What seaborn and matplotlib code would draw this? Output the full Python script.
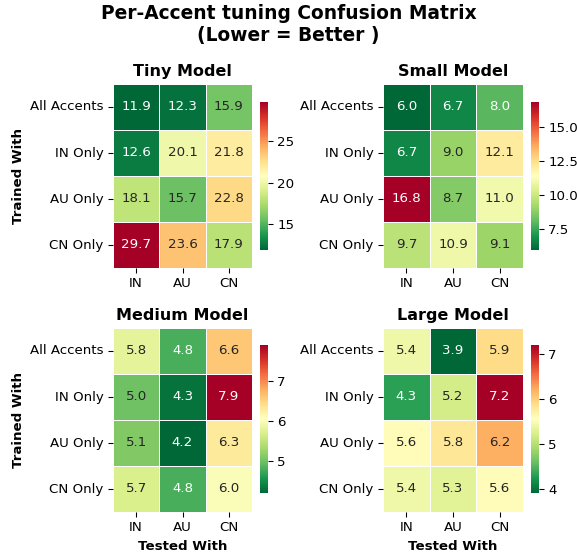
import numpy as np
import pandas as pd
import matplotlib
matplotlib.use("Agg")
import matplotlib.pyplot as plt
import seaborn as sns

trained = ["All Accents", "IN Only", "AU Only", "CN Only"]
tested = ["IN", "AU", "CN"]

tiny = [[11.9, 12.3, 15.9],
        [12.6, 20.1, 21.8],
        [18.1, 15.7, 22.8],
        [29.7, 23.6, 17.9]]
small = [[6.0, 6.7, 8.0],
         [6.7, 9.0, 12.1],
         [16.8, 8.7, 11.0],
         [9.7, 10.9, 9.1]]
medium = [[5.8, 4.8, 6.6],
          [5.0, 4.3, 7.9],
          [5.1, 4.2, 6.3],
          [5.7, 4.8, 6.0]]
large = [[5.4, 3.9, 5.9],
         [4.3, 5.2, 7.2],
         [5.6, 5.8, 6.2],
         [5.4, 5.3, 5.6]]

models = [("Tiny Model", tiny), ("Small Model", small),
          ("Medium Model", medium), ("Large Model", large)]

W, H = 577, 553
fig = plt.figure(figsize=(W / 96, H / 96), dpi=96)


def rect(x, y, w, h):
    # pixel box (top-left origin) -> figure fraction
    return [x / W, 1 - (y + h) / H, w / W, h / H]


heat_boxes = [(113, 84, 139, 184), (383, 84, 140, 184),
              (113, 328, 139, 184), (383, 328, 140, 184)]
cbar_boxes = [(260, 102, 8, 148), (531, 102, 8, 148),
              (260, 345, 8, 148), (531, 345, 8, 148)]

for i, (name, vals) in enumerate(models):
    ax = fig.add_axes(rect(*heat_boxes[i]))
    cax = fig.add_axes(rect(*cbar_boxes[i]))
    df = pd.DataFrame(vals, index=trained, columns=tested)
    sns.heatmap(df, annot=True, fmt=".1f", cmap="RdYlGn_r", linewidths=0.5,
                linecolor="white", ax=ax, cbar_ax=cax, annot_kws={"size": 10})
    ax.set_title(name, fontsize=12, fontweight="bold")
    ax.tick_params(axis="y", rotation=0)
    if i % 2 == 0:
        ax.set_ylabel("Trained With", fontsize=10, fontweight="bold")
    else:
        ax.set_ylabel("")
    if i >= 2:
        ax.set_xlabel("Tested With", fontsize=10, fontweight="bold")
    else:
        ax.set_xlabel("")

fig.suptitle("Per-Accent tuning Confusion Matrix\n(Lower = Better )",
             fontsize=14, fontweight="bold", y=0.992)
plt.savefig("out.png", dpi=96)
